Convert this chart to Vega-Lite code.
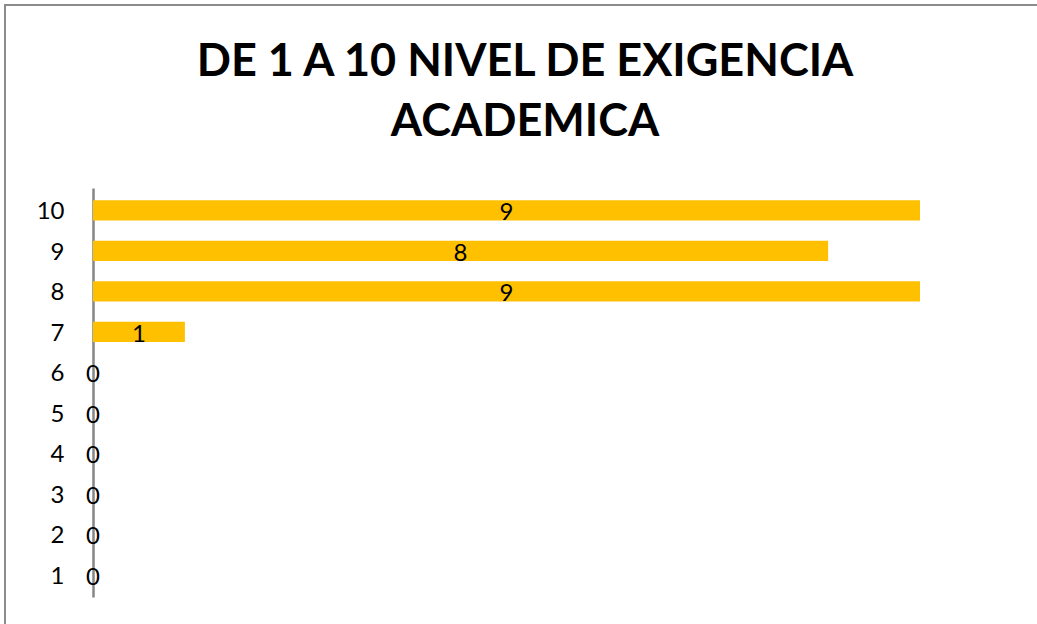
{
  "$schema": "https://vega.github.io/schema/vega-lite/v6.json",
  "autosize": {"type": "none"},
  "padding": {"left": 5, "top": 5, "right": -8, "bottom": -8},
  "width": 1040,
  "height": 627,
  "background": "white",
  "config": {
    "view": {"stroke": "#8c8c8c", "strokeWidth": 2},
    "font": "Lato"
  },
  "title": {
    "text": ["DE 1 A 10 NIVEL DE EXIGENCIA", "ACADEMICA"],
    "anchor": "middle",
    "frame": "group",
    "font": "Lato",
    "fontSize": 45,
    "fontWeight": "bold",
    "color": "#000000",
    "lineHeight": 60,
    "offset": -140
  },
  "data": {
    "values": [
      {"nivel": "10", "cantidad": 9},
      {"nivel": "9", "cantidad": 8},
      {"nivel": "8", "cantidad": 9},
      {"nivel": "7", "cantidad": 1},
      {"nivel": "6", "cantidad": 0},
      {"nivel": "5", "cantidad": 0},
      {"nivel": "4", "cantidad": 0},
      {"nivel": "3", "cantidad": 0},
      {"nivel": "2", "cantidad": 0},
      {"nivel": "1", "cantidad": 0}
    ]
  },
  "encoding": {
    "y": {
      "field": "nivel",
      "type": "nominal",
      "sort": ["10", "9", "8", "7", "6", "5", "4", "3", "2", "1"],
      "scale": {"range": [183, 592], "paddingInner": 0.5, "paddingOuter": 0.3},
      "axis": {
        "title": null,
        "offset": -88,
        "ticks": false,
        "domain": true,
        "domainColor": "#868686",
        "domainWidth": 2.5,
        "labelFont": "Lato",
        "labelFontSize": 24,
        "labelColor": "#000000",
        "labelPadding": 29,
        "labelOffset": 2
      }
    }
  },
  "layer": [
    {
      "mark": {"type": "bar", "color": "#FFC000"},
      "encoding": {
        "x": {
          "field": "cantidad",
          "type": "quantitative",
          "scale": {"domain": [0, 9], "range": [88, 915], "nice": false},
          "axis": null
        }
      }
    },
    {
      "mark": {"type": "text", "align": "center", "baseline": "middle", "dy": 3, "fontSize": 24, "font": "Lato", "color": "#000000"},
      "transform": [{"calculate": "datum.cantidad / 2", "as": "mitad"}],
      "encoding": {
        "x": {"field": "mitad", "type": "quantitative"},
        "text": {"field": "cantidad", "type": "quantitative"}
      }
    }
  ]
}
